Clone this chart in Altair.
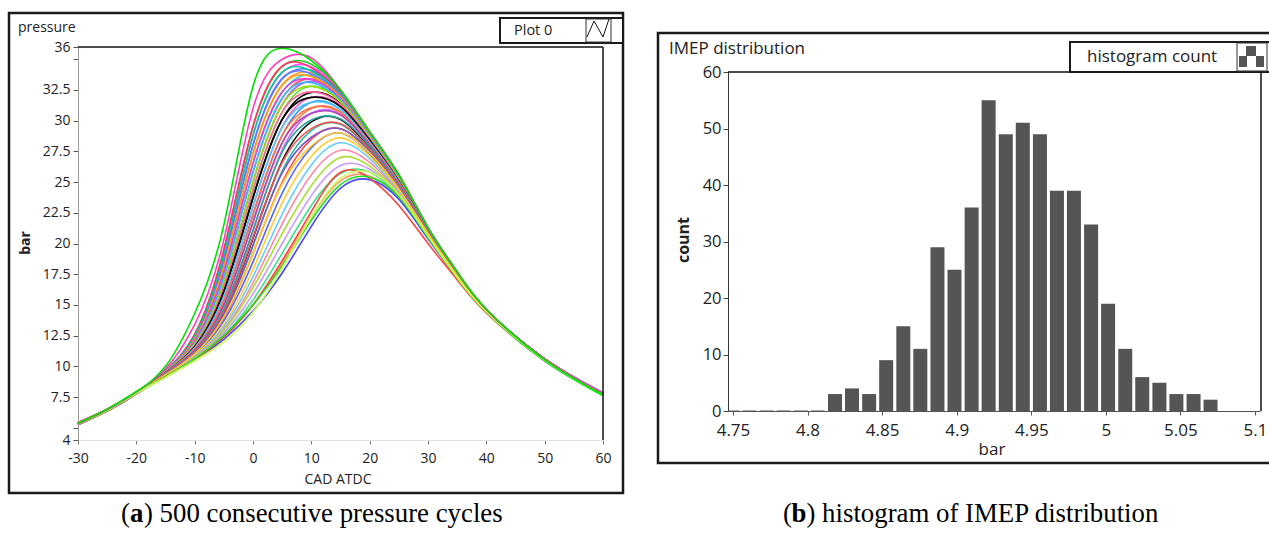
import altair as alt
import pandas as pd

FONT = "Open Sans"
CAPTION_FONT = "Liberation Serif"

# ---------------------------------------------------------------------------
# Left panel: in-cylinder pressure (bar) against crank angle (deg ATDC)
# ---------------------------------------------------------------------------
crank_angle = [-30, -25, -20, -15, -10, -5, 0, 5, 10, 15, 20, 25, 30, 35, 40, 50, 60]

# bulk of the cycles, from earliest to latest combustion phasing
main_cycles = [
    [5.35, 6.45, 7.85, 9.7, 12.6, 19.5, 29.5, 34.4, 34.6, 32.5, 29.1, 25.6, 21.3, 17.65, 14.65, 10.6, 7.85],
    [5.3, 6.4, 7.8, 9.68, 12.5, 19.0, 28.8, 33.9, 34.4, 32.4, 29.0, 25.5, 21.3, 17.65, 14.6, 10.6, 7.8],
    [5.25, 6.4, 7.8, 9.65, 12.3, 18.6, 28.0, 33.4, 34.1, 32.3, 29.0, 25.5, 21.3, 17.6, 14.6, 10.6, 7.85],
    [5.4, 6.5, 7.9, 9.63, 12.2, 18.2, 27.3, 32.9, 33.9, 32.2, 28.9, 25.45, 21.25, 17.6, 14.6, 10.55, 7.8],
    [5.3, 6.4, 7.8, 9.6, 12.1, 17.7, 26.5, 32.3, 33.7, 32.0, 28.8, 25.4, 21.25, 17.6, 14.6, 10.6, 7.8],
    [5.35, 6.45, 7.85, 9.58, 11.9, 17.3, 25.8, 31.8, 33.4, 31.9, 28.8, 25.35, 21.2, 17.55, 14.6, 10.55, 7.85],
    [5.3, 6.4, 7.8, 9.55, 11.8, 16.8, 25.0, 31.3, 33.2, 31.8, 28.7, 25.3, 21.2, 17.55, 14.6, 10.6, 7.8],
    [5.25, 6.35, 7.75, 9.53, 11.7, 16.4, 24.3, 30.7, 32.8, 31.6, 28.6, 25.2, 21.15, 17.55, 14.55, 10.55, 7.75],
    [5.35, 6.45, 7.85, 9.5, 11.6, 16.1, 23.7, 30.1, 32.3, 31.4, 28.5, 25.1, 21.15, 17.5, 14.55, 10.6, 7.8],
    [5.3, 6.4, 7.8, 9.48, 11.5, 15.7, 23.0, 29.5, 31.9, 31.2, 28.35, 25.05, 21.1, 17.5, 14.55, 10.55, 7.8],
    [5.4, 6.5, 7.85, 9.45, 11.4, 15.3, 22.3, 28.8, 31.5, 30.9, 28.2, 25.0, 21.05, 17.5, 14.55, 10.55, 7.75],
    [5.3, 6.4, 7.8, 9.43, 11.3, 15.0, 21.7, 28.2, 31.0, 30.7, 28.1, 24.9, 21.05, 17.45, 14.5, 10.55, 7.8],
    [5.25, 6.35, 7.75, 9.4, 11.2, 14.6, 21.0, 27.6, 30.6, 30.5, 28.0, 24.8, 21.0, 17.45, 14.5, 10.55, 7.75],
    [5.35, 6.45, 7.85, 9.38, 11.15, 14.4, 20.4, 26.7, 29.9, 30.1, 27.8, 24.7, 20.95, 17.4, 14.5, 10.55, 7.8],
    [5.3, 6.4, 7.8, 9.35, 11.05, 14.1, 19.8, 25.9, 29.2, 29.7, 27.6, 24.6, 20.9, 17.4, 14.5, 10.5, 7.75],
    [5.3, 6.4, 7.8, 9.33, 11.0, 13.9, 19.2, 25.0, 28.5, 29.35, 27.45, 24.5, 20.85, 17.4, 14.5, 10.5, 7.75],
    [5.4, 6.5, 7.85, 9.3, 10.95, 13.7, 18.5, 24.1, 27.8, 29.0, 27.3, 24.4, 20.8, 17.35, 14.5, 10.5, 7.8],
    [5.25, 6.35, 7.75, 9.28, 10.87, 13.4, 17.9, 23.3, 27.1, 28.6, 27.1, 24.3, 20.75, 17.35, 14.5, 10.5, 7.75],
    [5.3, 6.4, 7.8, 9.25, 10.8, 13.2, 17.3, 22.4, 26.4, 28.2, 26.9, 24.2, 20.7, 17.35, 14.5, 10.5, 7.7],
    [5.35, 6.45, 7.8, 9.23, 10.75, 13.0, 16.8, 21.6, 25.6, 27.6, 26.6, 24.1, 20.65, 17.3, 14.45, 10.5, 7.75],
    [5.3, 6.4, 7.8, 9.2, 10.7, 12.9, 16.4, 20.8, 24.7, 27.0, 26.3, 24.0, 20.6, 17.3, 14.45, 10.5, 7.7],
    [5.25, 6.35, 7.75, 9.2, 10.65, 12.7, 15.9, 20.0, 23.9, 26.35, 26.05, 23.9, 20.55, 17.3, 14.45, 10.5, 7.7],
    [5.35, 6.45, 7.8, 9.18, 10.6, 12.5, 15.4, 19.2, 23.1, 25.7, 25.8, 23.8, 20.5, 17.25, 14.45, 10.45, 7.7],
    [5.3, 6.4, 7.8, 9.17, 10.55, 12.4, 15.0, 18.4, 22.2, 25.1, 25.5, 23.7, 20.45, 17.25, 14.45, 10.45, 7.7],
    [5.3, 6.4, 7.8, 9.15, 10.5, 12.2, 14.5, 17.6, 21.4, 24.5, 25.2, 23.6, 20.4, 17.2, 14.4, 10.45, 7.7],
]
main_colors = [
    "#20d020", "#ff55ff", "#3f7fff", "#ff9a3c", "#33cccc", "#ff4d6d", "#9966ff",
    "#66dd44", "#000000", "#ff66cc", "#3399ff", "#ff7f50", "#cc66ff", "#111111",
    "#22bbaa", "#ff5050", "#5566ff", "#ffcc33", "#66ccff", "#ff88aa", "#aadd33",
    "#cc99ff", "#44dd88", "#ff9966", "#4444ff",
]

# cycles with a quicker early burn but a slightly lower peak
fast_start_cycles = [
    [5.3, 6.45, 7.85, 9.69, 12.6, 19.45, 29.55, 34.45, 34.3, 32.3, 29.05, 25.55, 21.3, 17.65, 14.6, 10.6, 7.8],
    [5.35, 6.45, 7.8, 9.66, 12.45, 19.0, 28.8, 33.95, 34.05, 32.2, 29.0, 25.5, 21.3, 17.62, 14.6, 10.55, 7.8],
    [5.25, 6.35, 7.8, 9.64, 12.3, 18.6, 28.05, 33.45, 33.8, 32.1, 28.95, 25.47, 21.27, 17.6, 14.6, 10.6, 7.85],
    [5.3, 6.4, 7.85, 9.61, 12.2, 18.15, 27.3, 32.9, 33.6, 31.95, 28.85, 25.42, 21.25, 17.6, 14.6, 10.55, 7.8],
    [5.4, 6.5, 7.85, 9.59, 12.05, 17.7, 26.55, 32.35, 33.35, 31.8, 28.8, 25.37, 21.22, 17.57, 14.6, 10.6, 7.8],
    [5.3, 6.4, 7.8, 9.56, 11.9, 17.25, 25.8, 31.85, 33.1, 31.7, 28.75, 25.32, 21.2, 17.55, 14.55, 10.55, 7.75],
    [5.25, 6.35, 7.75, 9.54, 11.8, 16.8, 25.05, 31.3, 32.8, 31.55, 28.65, 25.25, 21.17, 17.55, 14.55, 10.55, 7.8],
    [5.35, 6.45, 7.8, 9.51, 11.7, 16.45, 24.4, 30.7, 32.35, 31.35, 28.55, 25.15, 21.15, 17.52, 14.55, 10.6, 7.8],
    [5.3, 6.4, 7.8, 9.49, 11.6, 16.1, 23.75, 30.1, 31.9, 31.15, 28.42, 25.07, 21.12, 17.5, 14.55, 10.55, 7.75],
    [5.3, 6.4, 7.8, 9.46, 11.5, 15.7, 23.05, 29.45, 31.5, 30.9, 28.27, 25.02, 21.07, 17.5, 14.5, 10.55, 7.8],
    [5.4, 6.5, 7.85, 9.44, 11.4, 15.35, 22.4, 28.8, 31.05, 30.65, 28.15, 24.95, 21.05, 17.47, 14.5, 10.55, 7.75],
    [5.25, 6.35, 7.75, 9.41, 11.3, 15.0, 21.75, 28.2, 30.6, 30.45, 28.05, 24.85, 21.02, 17.45, 14.5, 10.5, 7.75],
    [5.3, 6.4, 7.8, 9.39, 11.2, 14.7, 21.1, 27.45, 30.05, 30.15, 27.9, 24.75, 20.97, 17.42, 14.5, 10.55, 7.8],
    [5.35, 6.45, 7.8, 9.36, 11.15, 14.45, 20.5, 26.6, 29.35, 29.75, 27.7, 24.65, 20.92, 17.4, 14.5, 10.5, 7.75],
    [5.3, 6.4, 7.8, 9.34, 11.07, 14.2, 19.9, 25.75, 28.65, 29.35, 27.52, 24.55, 20.87, 17.4, 14.5, 10.5, 7.75],
    [5.3, 6.4, 7.8, 9.31, 11.0, 14.0, 19.25, 24.85, 27.95, 29.0, 27.37, 24.45, 20.82, 17.37, 14.5, 10.5, 7.7],
]
fast_start_colors = [
    "#ff3366", "#00cc99", "#6677ff", "#ff9900", "#dd44dd", "#33bbff", "#99dd00", "#ff6699",
    "#000000", "#4fc3f7", "#ff7043", "#ab47bc", "#26a69a", "#ef5350", "#7e57c2", "#ffca28",
]

# slowest-burning cycles (low, late peaks)
late_cycles = [
    [5.3, 6.4, 7.8, 9.15, 10.55, 12.4, 15.0, 18.6, 22.6, 25.8, 25.3, 23.1, 20.0, 17.05, 14.35, 10.5, 7.75],
    [5.3, 6.4, 7.8, 9.15, 10.6, 12.5, 15.0, 18.2, 21.9, 24.8, 25.4, 23.8, 20.5, 17.2, 14.4, 10.45, 7.6],
    [5.3, 6.4, 7.8, 9.1, 10.45, 12.0, 14.4, 18.0, 22.2, 25.3, 25.8, 24.0, 20.6, 17.25, 14.45, 10.5, 7.7],
]
late_colors = ["#ff4040", "#22dd22", "#ccff55"]

# fastest-burning cycles (highest, earliest peaks)
early_cycles = [
    [5.3, 6.45, 7.9, 9.8, 13.4, 20.3, 31.0, 35.0, 35.1, 32.5, 29.1, 25.6, 21.3, 17.7, 14.6, 10.6, 7.8],
    [5.35, 6.5, 7.95, 10.0, 14.3, 21.5, 32.8, 35.9, 34.9, 32.5, 29.1, 25.6, 21.3, 17.7, 14.65, 10.55, 7.7],
]
early_colors = ["#ff40c0", "#00e000"]

cad_ticks = [-30, -20, -10, 0, 10, 20, 30, 40, 50, 60]
pressure_ticks = [4, 5, 7.5, 10, 12.5, 15, 17.5, 20, 22.5, 25, 27.5, 30, 32.5, 35, 36]

# ---------------------------------------------------------------------------
# Right panel: histogram of IMEP (bar)
# ---------------------------------------------------------------------------
imep_bin_centers = [
    4.7497, 4.7611, 4.7726, 4.7840, 4.7955, 4.8069, 4.8184, 4.8298, 4.8413, 4.8527,
    4.8642, 4.8756, 4.8871, 4.8985, 4.9100, 4.9214, 4.9329, 4.9443, 4.9558, 4.9672,
    4.9786, 4.9901, 5.0015, 5.0130, 5.0244, 5.0359, 5.0473, 5.0588, 5.0702,
]
imep_counts = [
    0, 0, 0, 0, 0, 0, 3, 4, 3, 9,
    15, 11, 29, 25, 36, 55, 49, 51, 49, 39,
    39, 33, 19, 11, 6, 5, 3, 3, 2,
]
imep_ticks = [4.75, 4.8, 4.85, 4.9, 4.95, 5, 5.05, 5.1]
count_ticks = [0, 10, 20, 30, 40, 50, 60]

# ---------------------------------------------------------------------------
# tables
# ---------------------------------------------------------------------------
cycles = main_cycles + fast_start_cycles + late_cycles + early_cycles
colors = main_colors + fast_start_colors + late_colors + early_colors
names = [f"cycle {i + 1:02d}" for i in range(len(cycles))]
pressure_df = pd.DataFrame(
    [
        {"cycle": n, "step": j, "cad": a, "p": v}
        for n, vals in zip(names, cycles)
        for j, (a, v) in enumerate(zip(crank_angle, vals))
    ]
)
hist_df = pd.DataFrame({"center": imep_bin_centers, "n": imep_counts})
blank = pd.DataFrame({"k": [0]})

# ---------------------------------------------------------------------------
# scales and axes (both panels share one canvas, each with its own scales)
# ---------------------------------------------------------------------------
CANVAS_W, CANVAS_H = 1269, 544
L_X0, L_X1, L_Y0, L_Y1 = 78, 603, 47, 440
R_X0, R_X1, R_Y0, R_Y1 = 728, 1260, 72, 411

cad_scale = alt.Scale(domain=[-30, 60], range=[L_X0, L_X1], nice=False, zero=False)
p_scale = alt.Scale(domain=[4, 36], range=[L_Y1, L_Y0], nice=False, zero=False)
imep_scale = alt.Scale(domain=[4.75, 5.1], range=[R_X0, R_X1], nice=False, zero=False, clamp=True)
count_scale = alt.Scale(domain=[0, 60], range=[R_Y1, R_Y0], nice=False, zero=False)

plain = "datum.value + ''"
common_axis = dict(
    grid=False, labelFlush=False, labelOverlap=False, labelFont=FONT,
    labelColor="#222222", title=None,
)

cad_axis = alt.Axis(
    orient="bottom", offset=L_Y1 - CANVAS_H, values=cad_ticks, labelExpr=plain,
    labelFontSize=14, labelPadding=7, tickSize=4, tickColor="#777777",
    domainColor="#e2e2e2", **common_axis,
)
p_axis = alt.Axis(
    orient="left", offset=-L_X0, values=pressure_ticks,
    labelExpr="datum.value == 5 || datum.value == 35 ? '' : datum.value + ''",
    labelFontSize=14, labelPadding=3, tickSize=5, tickColor="#555555",
    domainColor="#9a9a9a", **common_axis,
)
imep_axis = alt.Axis(
    orient="bottom", offset=R_Y1 - CANVAS_H, values=imep_ticks, labelExpr=plain,
    labelFontSize=17, labelPadding=7, tickSize=4, tickColor="#555555",
    domainColor="#555555", **common_axis,
)
count_axis = alt.Axis(
    orient="left", offset=-R_X0, values=count_ticks, labelExpr=plain,
    labelFontSize=16.5, labelPadding=2, tickSize=5, tickColor="#444444",
    domainColor="#333333", **common_axis,
)


# ---------------------------------------------------------------------------
# helpers for the panel furniture
# ---------------------------------------------------------------------------
def label(txt, x, y, size, font=FONT, color="#222222", **kw):
    return alt.Chart(blank).mark_text(font=font, fontSize=size, color=color, **kw).encode(
        x=alt.value(x), y=alt.value(y), text=alt.value(txt)
    )


def box(x, y, x2, y2, **kw):
    return alt.Chart(blank).mark_rect(**kw).encode(
        x=alt.value(x), x2=alt.value(x2), y=alt.value(y), y2=alt.value(y2)
    )


def segment(x, y, x2, y2, color="#111111", width=1.0):
    return alt.Chart(blank).mark_rule(color=color, strokeWidth=width).encode(
        x=alt.value(x), x2=alt.value(x2), y=alt.value(y), y2=alt.value(y2)
    )


# ---------------------------------------------------------------------------
# left panel
# ---------------------------------------------------------------------------
pressure_lines = alt.Chart(pressure_df).mark_line(
    interpolate="natural", strokeWidth=1.6
).encode(
    x=alt.X("cad:Q", scale=cad_scale, axis=cad_axis),
    y=alt.Y("p:Q", scale=p_scale, axis=p_axis),
    color=alt.Color("cycle:N", scale=alt.Scale(domain=names, range=colors), legend=None),
    order="step:Q",
)

left_panel = alt.layer(
    pressure_lines,
    segment(L_X0, L_Y0, L_X1, L_Y0, width=1.5),
    segment(L_X1, L_Y0, L_X1, L_Y1, width=1.5),
)

# ---------------------------------------------------------------------------
# right panel
# ---------------------------------------------------------------------------
bars = alt.Chart(hist_df).mark_bar(size=14, color="#555555").encode(
    x=alt.X("center:Q", scale=imep_scale, axis=imep_axis),
    y=alt.Y("n:Q", scale=count_scale, axis=count_axis),
)
empty_bins = alt.Chart(hist_df).transform_filter("datum.n == 0").transform_calculate(
    lo="datum.center - 0.0046", hi="datum.center + 0.0046"
).mark_rule(color="#555555", strokeWidth=1).encode(
    x=alt.X("lo:Q", scale=imep_scale, axis=imep_axis),
    x2="hi:Q",
    y=alt.Y("n:Q", scale=count_scale, axis=count_axis),
)

right_panel = alt.layer(
    bars,
    empty_bins,
    segment(R_X0, R_Y0, R_X1 + 1, R_Y0, width=1.5),
    segment(R_X1 + 1, R_Y0, R_X1 + 1, R_Y1, width=1.5),
)

# ---------------------------------------------------------------------------
# frames, legends, titles and captions
# ---------------------------------------------------------------------------
furniture = [
    # panel frames
    box(9, 13, 623, 493, fill="transparent", stroke="#1a1a1a", strokeWidth=2.5),
    box(658, 33, 1285, 463, fill="transparent", stroke="#1a1a1a", strokeWidth=2.5),
    # legend of the pressure plot
    box(500, 18, 623, 43, fill="white", stroke="#1a1a1a", strokeWidth=2),
    box(586, 19, 611, 42, fill="white", stroke="#333333", strokeWidth=1),
    segment(587, 37, 594, 21),
    segment(594, 21, 603, 37),
    segment(603, 37, 609, 19),
    label("Plot 0", 514, 31, 14.5, align="left", baseline="middle"),
    # legend of the histogram
    box(1070, 42, 1285, 72, fill="white", stroke="#1a1a1a", strokeWidth=2),
    box(1237, 43, 1267, 71, fill="white", stroke="#333333", strokeWidth=1),
    box(1246, 46, 1256, 56, fill="#555555"),
    box(1239, 56, 1247, 67, fill="#555555"),
    box(1256, 56, 1264, 67, fill="#555555"),
    label("histogram count", 1087, 57, 17, align="left", baseline="middle"),
    # plot and axis titles
    label("pressure", 18, 27.5, 14, align="left", baseline="middle"),
    label("bar", 26, 243, 14, angle=270, fontWeight="bold", align="center", baseline="middle"),
    label("CAD ATDC", 338, 480, 14, align="center", baseline="middle"),
    label("IMEP distribution", 669, 49, 17, align="left", baseline="middle"),
    label("count", 684, 240, 16, angle=270, fontWeight="bold", align="center", baseline="middle"),
    label("bar", 992, 450, 17, align="center", baseline="middle"),
    # sub-figure captions
    label("(", 121, 514, 26.8, font=CAPTION_FONT, color="#000000", align="left", baseline="middle"),
    label("a", 130, 514, 26.8, font=CAPTION_FONT, color="#000000", fontWeight="bold", align="left", baseline="middle"),
    label(") 500 consecutive pressure cycles", 144, 514, 26.8, font=CAPTION_FONT, color="#000000",
          align="left", baseline="middle"),
    label("(", 783, 514, 26.8, font=CAPTION_FONT, color="#000000", align="left", baseline="middle"),
    label("b", 791.5, 514, 26.8, font=CAPTION_FONT, color="#000000", fontWeight="bold", align="left", baseline="middle"),
    label(") histogram of IMEP distribution", 806.5, 514, 26.8, font=CAPTION_FONT, color="#000000",
          align="left", baseline="middle"),
]

chart = alt.layer(left_panel, right_panel, *furniture).resolve_scale(
    x="independent", y="independent", color="independent"
).properties(
    width=CANVAS_W,
    height=CANVAS_H,
    autosize=alt.AutoSizeParams(type="none"),
    padding=0,
    background="white",
).configure_view(stroke="transparent")

chart.save("out.html", embed_options={"renderer": "svg", "actions": False})
